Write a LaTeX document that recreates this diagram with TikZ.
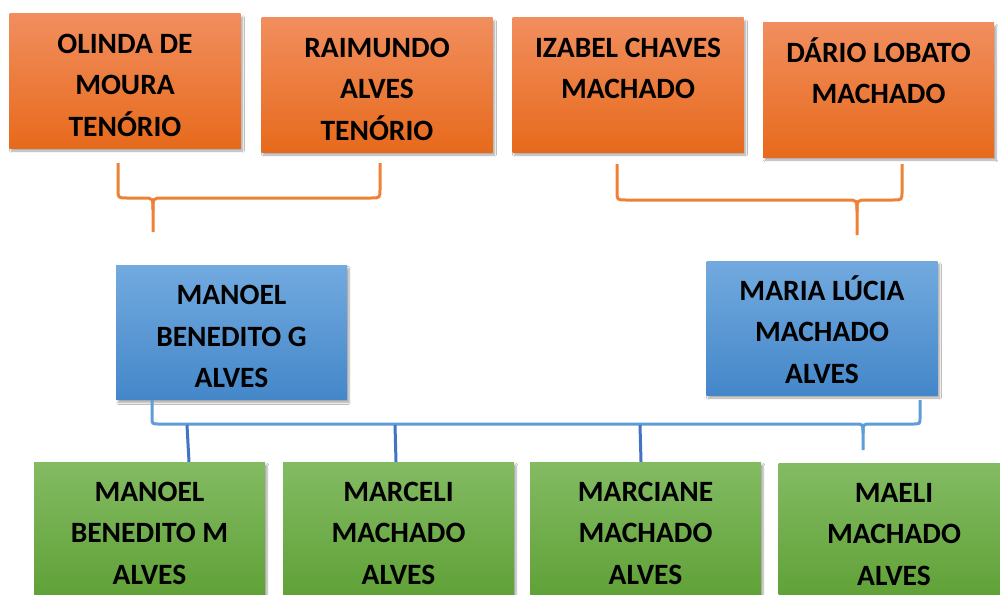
\documentclass[tikz,border=0pt]{standalone}
\usepackage{fontspec}
\setmainfont{Carlito}
\usetikzlibrary{shadows.blur}
\definecolor{otop}{HTML}{F18E5E}
\definecolor{obot}{HTML}{E76A1C}
\definecolor{btop}{HTML}{72AADF}
\definecolor{bbot}{HTML}{4487C9}
\definecolor{gtop}{HTML}{83BB63}
\definecolor{gbot}{HTML}{60A137}
\definecolor{oline}{HTML}{EE8136}
\definecolor{bline}{HTML}{5E9DD7}
\definecolor{dline}{HTML}{4472C4}
\newcommand{\boxlines}[1]{\parbox[c][134pt][t]{231pt}{\centering\rule{0pt}{39pt}#1}}
\tikzset{
  box/.style={inner sep=0pt, font=\fontsize{29.5}{41.5}\selectfont\bfseries,
    blur shadow={shadow xshift=2pt, shadow yshift=-3pt, shadow blur steps=6, shadow opacity=35}},
  obox/.style={box, top color=otop, bottom color=obot},
  bbox/.style={box, top color=btop, bottom color=bbot},
  gbox/.style={box, top color=gtop, bottom color=gbot},
  obr/.style={draw=oline, line width=3pt},
  bbr/.style={draw=bline, line width=3pt},
  kid/.style={draw=dline, line width=3pt},
}
\begin{document}
\begin{tikzpicture}[x=1pt,y=-1pt]
\fill[white] (0,0) rectangle (1000,594);
\useasboundingbox (0,0) rectangle (1000,594);

% grandparents
\node[obox] (o1) at (125,81) {\boxlines{OLINDA DE\\MOURA\\TENÓRIO}};
\node[obox] (o2) at (377,85) {\boxlines{RAIMUNDO\\ALVES\\TENÓRIO}};
\node[obox] (o3) at (628,85) {\boxlines{IZABEL CHAVES\\MACHADO}};
\node[obox] (o4) at (878.5,90) {\boxlines{DÁRIO LOBATO\\MACHADO}};

% parents
\node[bbox] (b1) at (231.5,332.5) {\boxlines{MANOEL\\BENEDITO G\\ALVES}};
\node[bbox] (b2) at (822,328) {\boxlines{MARIA LÚCIA\\MACHADO\\ALVES}};

% children
\node[gbox] (g1) at (149.5,529) {\boxlines{MANOEL\\BENEDITO M\\ALVES}};
\node[gbox] (g2) at (398.5,529) {\boxlines{MARCELI\\MACHADO\\ALVES}};
\node[gbox] (g3) at (645.5,529) {\boxlines{MARCIANE\\MACHADO\\ALVES}};
\node[gbox] (g4) at (894,530) {\boxlines{MAELI\\MACHADO\\ALVES}};

% left orange brace
\coordinate (a1) at (118,163);
\coordinate (a2) at (380,163);
\coordinate (at) at (153,232);
\draw[obr] (a1) -- (118,189) .. controls (118,198) .. (127,198) -- (143,198) .. controls (153,198) .. (153,210) -- (at);
\draw[obr] (a2) -- (380,189) .. controls (380,198) .. (371,198) -- (163,198) .. controls (153,198) .. (153,210);

% right orange brace
\coordinate (c1) at (617,164);
\coordinate (c2) at (902,164);
\coordinate (ct) at (857,235);
\draw[obr] (c1) -- (617,191) .. controls (617,200) .. (626,200) -- (847,200) .. controls (857,200) .. (857,212) -- (ct);
\draw[obr] (c2) -- (902,191) .. controls (902,200) .. (893,200) -- (867,200) .. controls (857,200) .. (857,212);

% blue brace
\coordinate (d1) at (152,400);
\coordinate (d2) at (920,400);
\coordinate (dt) at (863,450);
\draw[bbr] (d1) -- (152,417) .. controls (152,424) .. (159,424) -- (855,424) .. controls (863,424) .. (863,433) -- (dt);
\draw[bbr] (d2) -- (920,417) .. controls (920,424) .. (913,424) -- (871,424) .. controls (863,424) .. (863,433);

% lines to children
\coordinate (k1) at (187,425);
\coordinate (k2) at (395,425);
\coordinate (k3) at (640,425);
\draw[kid] (k1) -- ([xshift=39.5pt]g1.north);
\draw[kid] (k2) -- ([xshift=-2.5pt]g2.north);
\draw[kid] (k3) -- ([xshift=-4.5pt]g3.north);
\end{tikzpicture}
\end{document}
